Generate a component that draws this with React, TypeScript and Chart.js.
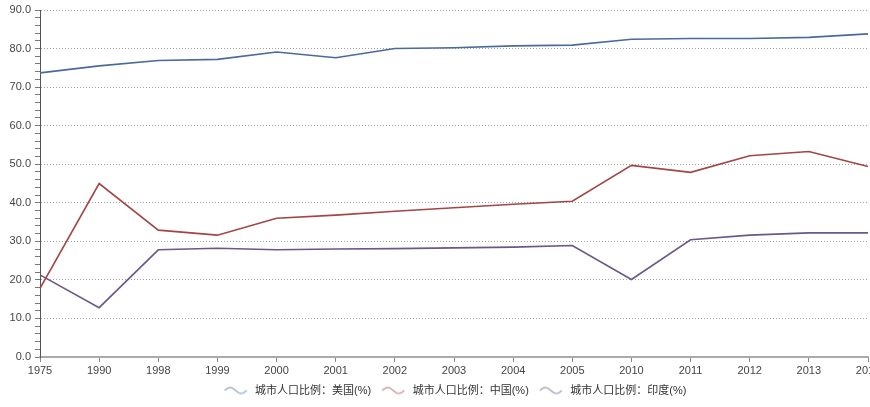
import React, { useEffect, useRef } from 'react';
import { Chart, registerables } from 'chart.js';

Chart.register(...registerables);

const categories = ['1975', '1990', '1998', '1999', '2000', '2001', '2002', '2003', '2004', '2005', '2010', '2011', '2012', '2013', '2014'];
const usValues = [73.7, 75.5, 76.9, 77.2, 79.1, 77.6, 80.0, 80.2, 80.7, 80.9, 82.4, 82.6, 82.6, 82.9, 83.8];
const chinaValues = [17.8, 45.0, 32.9, 31.6, 36.0, 36.8, 37.8, 38.7, 39.6, 40.4, 49.7, 47.9, 52.2, 53.3, 49.4];
const indiaValues = [21.3, 12.8, 27.8, 28.2, 27.8, 28.0, 28.1, 28.3, 28.5, 28.9, 20.1, 30.4, 31.6, 32.2, 32.2];
const seriesNames = ['城市人口比例：美国(%)', '城市人口比例：中国(%)', '城市人口比例：印度(%)'];
const seriesColors = ['#4a6a9c', '#a34545', '#6b5788'];
const legendColors = ['rgba(74,106,156,0.65)', 'rgba(163,69,69,0.65)', 'rgba(107,87,136,0.65)'];
const yMin = 0;
const yMax = 90;
const yMinorStep = 2;
const yMajorStep = 10;

const FONT = "'Liberation Sans', Arial, 'Noto Sans CJK SC', sans-serif";

function makeWave(color: string): HTMLCanvasElement {
  const c = document.createElement('canvas');
  c.width = 24;
  c.height = 10;
  const ctx = c.getContext('2d')!;
  ctx.strokeStyle = color;
  ctx.lineWidth = 1.2;
  ctx.beginPath();
  for (let i = 0; i <= 22; i++) {
    const x = 1 + i;
    const y = 5 - 3 * Math.sin((i / 22) * Math.PI * 2);
    if (i === 0) ctx.moveTo(x, y);
    else ctx.lineTo(x, y);
  }
  ctx.stroke();
  return c;
}

export default function App() {
  const ref = useRef<HTMLCanvasElement | null>(null);

  useEffect(() => {
    if (!ref.current) return;
    const waves = legendColors.map(makeWave);
    const values = [usValues, chinaValues, indiaValues];
    const chart = new Chart(ref.current, {
      type: 'line',
      data: {
        labels: categories,
        datasets: values.map((v, i) => ({
          label: seriesNames[i],
          data: v,
          borderColor: seriesColors[i],
          backgroundColor: seriesColors[i],
          borderWidth: 1.6,
          pointRadius: 0,
          tension: 0,
          fill: false,
        })),
      },
      options: {
        animation: false,
        responsive: false,
        maintainAspectRatio: false,
        layout: { padding: { top: 10, right: 2, bottom: 1, left: 0 } },
        plugins: {
          tooltip: { enabled: false },
          legend: {
            position: 'bottom',
            fullSize: false,
            labels: {
              usePointStyle: true,
              pointStyleWidth: 28,
              padding: 8,
              color: '#333',
              font: { family: FONT, size: 11 },
              generateLabels: (ch: any) => {
                const items = Chart.defaults.plugins.legend.labels.generateLabels(ch);
                return items.map((it: any, i: number) => ({ ...it, pointStyle: waves[i], lineWidth: 0 }));
              },
            },
          },
        },
        scales: {
          x: {
            type: 'category',
            offset: false,
            grid: {
              drawOnChartArea: false,
              drawTicks: true,
              tickLength: 5,
              tickColor: '#888',
              color: '#888',
            },
            border: { color: '#aaa', width: 2 },
            ticks: {
              autoSkip: false,
              maxRotation: 0,
              padding: 2,
              color: '#444',
              font: { family: FONT, size: 11 },
            },
            afterFit: (s: any) => {
              s.height = 20;
              s.paddingLeft = 0;
              s.paddingRight = 0;
            },
          },
          y: {
            min: yMin,
            max: yMax,
            grid: {
              color: (ctx: any) =>
                ctx.tick && ctx.tick.value % yMajorStep === 0 && ctx.tick.value !== 0 ? '#a0a0a0' : 'rgba(0,0,0,0)',
              tickColor: '#777',
              tickLength: 5,
              drawTicks: true,
            },
            border: { color: '#555', width: 1, dash: [1, 2] },
            ticks: {
              stepSize: yMinorStep,
              autoSkip: false,
              padding: 4,
              color: '#444',
              font: { family: FONT, size: 11 },
              callback: (v: any) => (Number(v) % yMajorStep === 0 ? Number(v).toFixed(1) : ''),
            },
            afterFit: (s: any) => {
              s.width = 40;
              s.paddingTop = 0;
              s.paddingBottom = 0;
            },
          },
        },
      },
    } as any);
    return () => chart.destroy();
  }, []);

  return (
    <div style={{ position: 'absolute', left: 0, top: 0, width: 870, height: 407, overflow: 'hidden', background: '#fff' }}>
      <canvas ref={ref} width={870} height={407} style={{ width: 870, height: 407, display: 'block' }} />
    </div>
  );
}
